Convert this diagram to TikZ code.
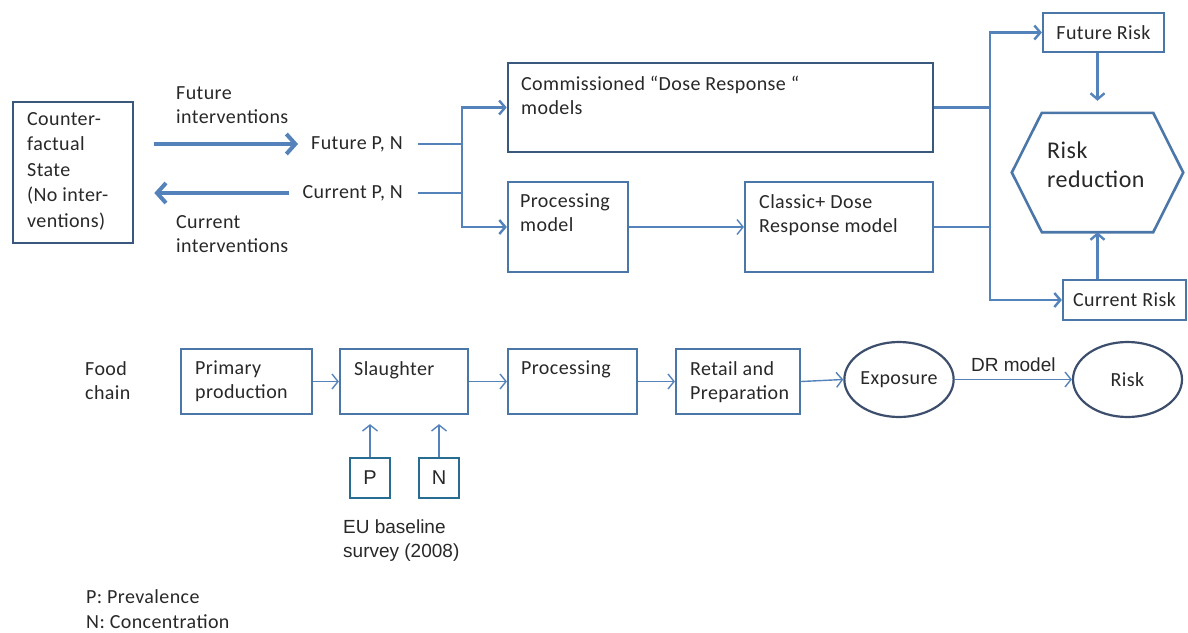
\documentclass[tikz,border=0pt]{standalone}
\usepackage{fontspec}
\setmainfont{Carlito}[LetterSpace=2]
\newfontfamily\arialf{Liberation Sans}
\usetikzlibrary{arrows.meta,calc,shapes.geometric}
\definecolor{boxc}{RGB}{74,118,168}
\definecolor{darkc}{RGB}{58,88,126}
\definecolor{arrc}{RGB}{84,130,186}
\definecolor{pnc}{RGB}{40,108,146}
\definecolor{ellc}{RGB}{60,78,108}
\definecolor{txtc}{RGB}{40,40,40}
\begin{document}
\begin{tikzpicture}[x=1pt,y=-1pt,
  box/.style={draw=boxc, line width=2.2pt, inner sep=0, text=txtc, font=\fontsize{20}{24}\selectfont},
  txt/.style={inner sep=0, align=left, anchor=north west, text=txtc, font=\fontsize{20}{24}\selectfont},
  ell/.style={draw=ellc, line width=2.2pt, ellipse, inner sep=0, text=txtc, font=\fontsize{20}{24}\selectfont},
  pn/.style={draw=pnc, line width=2.6pt, inner sep=0, minimum width=40, minimum height=40, text=txtc, font=\arialf\fontsize{20}{24}\selectfont},
  brk/.style={draw=arrc, line width=2.4pt},
  brkarrow/.style={brk, -{Straight Barb[length=6pt,width=14pt]}},
  arr/.style={draw=arrc, line width=1.4pt, -{Straight Barb[length=6pt,width=15pt]}},
  big/.style={draw=arrc, line width=4pt, -{Straight Barb[length=9pt,width=20pt]}}
]
\useasboundingbox (0,0) rectangle (1188,632);

% ---- top part
\node[box, draw=darkc, line width=2.6pt, minimum width=120, minimum height=141] (cf) at (73,172.5) {};
\node[txt, font=\fontsize{20}{25.5}\selectfont] (cft) at (27,112) {Counter-\\factual\\State\\(No inter-\\ventions)};
\node[txt] (fi) at (176,86) {Future\\interventions};
\node[txt, anchor=east] (fpn) at (403,144) {Future P, N};
\node[txt, anchor=east] (cpn) at (403,193) {Current P, N};
\node[txt] (ci) at (176,215) {Current\\interventions};

\draw[big] ($(cf.east |- fpn.west)+(20,0)$) -- ($(fpn.west)+(-13,0)$);
\draw[big] ($(cpn.west)+(-13,0)$) -- ($(cf.east |- cpn.west)+(20,0)$);

\node[box, draw=darkc, line width=2.6pt, minimum width=425, minimum height=89] (comm) at (720.5,107.5) {};
\node[txt] (commt) at (521,76) {Commissioned “Dose Response “\\models};
\node[box, minimum width=120, minimum height=90] (procm) at (568,227) {};
\node[txt] (procmt) at (520,194) {Processing\\model};
\node[box, minimum width=188, minimum height=90] (classic) at (839,227) {};
\node[txt] (classict) at (759,194) {Classic+ Dose\\Response model};

\coordinate (jl) at (462,0);
\draw[brk] ($(fpn.east)+(15,0)$) -- (fpn.east -| jl);
\draw[brk] ($(cpn.east)+(15,0)$) -- (cpn.east -| jl);
\draw[brk] (fpn.east -| jl) -- (cpn.east -| jl);
\draw[brkarrow] (fpn.east -| jl) |- (comm.west);
\draw[brkarrow] (cpn.east -| jl) |- (procm.west);
\draw[arr] (procm.east) -- (classic.west);

\node[box, minimum width=121, minimum height=39] (futrisk) at (1103.5,32.5) {Future Risk};
\node[box, minimum width=123, minimum height=40] (currisk) at (1124.5,300) {Current Risk};
\node[minimum width=171, minimum height=119, inner sep=0] (hex) at (1097.5,172.5) {};
\draw[draw=boxc, line width=2.6pt, line join=miter]
  (hex.west) -- ($(hex.north west)+(30,0)$) -- ($(hex.north east)+(-30,0)$) -- (hex.east)
  -- ($(hex.south east)+(-30,0)$) -- ($(hex.south west)+(30,0)$) -- cycle;
\node[txt, font=\fontsize{24}{29}\selectfont] (hext) at (1047,142) {Risk\\reduction};

\coordinate (jr) at (990,0);
\draw[brk] (comm.east) -- (comm.east -| jr);
\draw[brk] (classic.east) -- (classic.east -| jr);
\draw[brk] (comm.east -| jr) -- (classic.east -| jr);
\draw[brkarrow] (comm.east -| jr) |- (futrisk.west);
\draw[brkarrow] (classic.east -| jr) |- (currisk.west);
\draw[brkarrow, shorten >=12pt] (futrisk.south -| hex.north) -- (hex.north);
\draw[brkarrow] (currisk.north -| hex.south) -- (hex.south);

% ---- food chain
\node[txt] (food) at (85,361) {Food\\chain};
\node[box, minimum width=131, minimum height=65] (prim) at (246.5,381.5) {};
\node[txt] (primt) at (195,361) {Primary\\production};
\node[box, minimum width=128, minimum height=65] (slau) at (404,381.5) {};
\node[txt] (slaut) at (354,361) {Slaughter};
\node[box, minimum width=129, minimum height=65] (proc) at (572.5,381.5) {};
\node[txt] (proct) at (521,361) {Processing};
\node[box, minimum width=124, minimum height=65] (ret) at (738,381.5) {};
\node[txt] (rett) at (690,361) {Retail and\\Preparation};
\node[ell, minimum width=108, minimum height=75] (expo) at (899,379.5) {Exposure};
\node[ell, minimum width=109, minimum height=75] (risk) at (1127.5,379.5) {Risk};

\draw[arr] (prim.east) -- (slau.west);
\draw[arr] (slau.east) -- (proc.west);
\draw[arr] (proc.east) -- (ret.west);
\draw[arr] (ret.east) -- (expo.west);
\draw[arr] (expo.east) -- node[above=7pt, inner sep=0, text=txtc, font=\arialf\fontsize{19}{24}\selectfont] (drm) {DR model} (risk.west);

\node[pn] (p) at (370,478) {P};
\node[pn] (n) at (439,478) {N};
\draw[arr, shorten >=9pt] (p.north) -- (p.north |- slau.south);
\draw[arr, shorten >=9pt] (n.north) -- (n.north |- slau.south);
\node[txt, font=\arialf\fontsize{19}{24}\selectfont] (eu) at (343,520) {EU baseline\\survey (2008)};

\node[txt, font=\fontsize{20}{25}\selectfont] (leg) at (86,589) {P: Prevalence\\N: Concentration};
\end{tikzpicture}
\end{document}
